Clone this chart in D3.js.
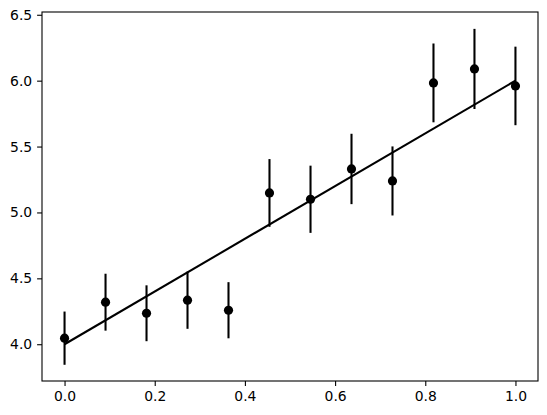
<!DOCTYPE html>
<html>
<head>
<meta charset="utf-8">
<script src="https://cdn.jsdelivr.net/npm/d3@7"></script>
<style>
  body { margin: 0; background: #fff; }
  svg text { font-family: "DejaVu Sans", sans-serif; font-size: 13.9px; fill: #000; }
</style>
</head>
<body>
<div id="chart"></div>
<script>
// measured points
const xValues = [0, 0.0909, 0.1818, 0.2727, 0.3636, 0.4545, 0.5455, 0.6364, 0.7273, 0.8182, 0.9091, 1.0];
const yValues = [4.046, 4.319, 4.235, 4.334, 4.258, 5.148, 5.10, 5.33, 5.239, 5.983, 6.089, 5.96];
const yErrors = [0.202, 0.216, 0.212, 0.217, 0.213, 0.257, 0.255, 0.267, 0.262, 0.299, 0.304, 0.298];
// fitted line endpoints
const lineX = [0, 1];
const lineY = [4, 6];
const xTicks = [0, 0.2, 0.4, 0.6, 0.8, 1.0];
const yTicks = [4.0, 4.5, 5.0, 5.5, 6.0, 6.5];

const width = 547, height = 415;
const margin = {top: 12, right: 9, bottom: 34, left: 42};

const svg = d3.select('#chart').append('svg')
    .attr('width', width)
    .attr('height', height);

const x = d3.scaleLinear()
    .domain([-0.05, 1.05])
    .range([margin.left, width - margin.right]);

const y = d3.scaleLinear()
    .domain([3.721, 6.521])
    .range([height - margin.bottom, margin.top]);

const points = xValues.map((d, i) => ({x: d, y: yValues[i], e: yErrors[i]}));

// line
svg.append('path')
    .datum(lineX.map((d, i) => [d, lineY[i]]))
    .attr('fill', 'none')
    .attr('stroke', '#000')
    .attr('stroke-width', 2.08)
    .attr('d', d3.line().x(d => x(d[0])).y(d => y(d[1])));

// error bars
svg.append('g').selectAll('line')
    .data(points).enter()
    .append('line')
    .attr('x1', d => x(d.x))
    .attr('x2', d => x(d.x))
    .attr('y1', d => y(d.y - d.e))
    .attr('y2', d => y(d.y + d.e))
    .attr('stroke', '#000')
    .attr('stroke-width', 2.08);

svg.append('g').selectAll('circle')
    .data(points).enter()
    .append('circle')
    .attr('cx', d => x(d.x))
    .attr('cy', d => y(d.y))
    .attr('r', 4.6)
    .attr('fill', '#000');

// axes
const xAxis = d3.axisBottom(x)
    .tickValues(xTicks)
    .tickFormat(d3.format('.1f'))
    .tickSize(4.9)
    .tickPadding(4.9);

const yAxis = d3.axisLeft(y)
    .tickValues(yTicks)
    .tickFormat(d3.format('.1f'))
    .tickSize(4.9)
    .tickPadding(4.9);

const gx = svg.append('g')
    .attr('transform', 'translate(0,' + (height - margin.bottom) + ')')
    .call(xAxis);
const gy = svg.append('g')
    .attr('transform', 'translate(' + margin.left + ',0)')
    .call(yAxis);

[gx, gy].forEach(g => {
    g.select('.domain').remove();
    g.selectAll('line').attr('stroke', '#000').attr('stroke-width', 1.1);
    g.selectAll('text').style('font-family', '"DejaVu Sans", sans-serif').style('font-size', '13.9px');
});

// frame
svg.append('rect')
    .attr('x', margin.left)
    .attr('y', margin.top)
    .attr('width', width - margin.left - margin.right)
    .attr('height', height - margin.top - margin.bottom)
    .attr('fill', 'none')
    .attr('stroke', '#000')
    .attr('stroke-width', 1.1);
</script>
</body>
</html>
